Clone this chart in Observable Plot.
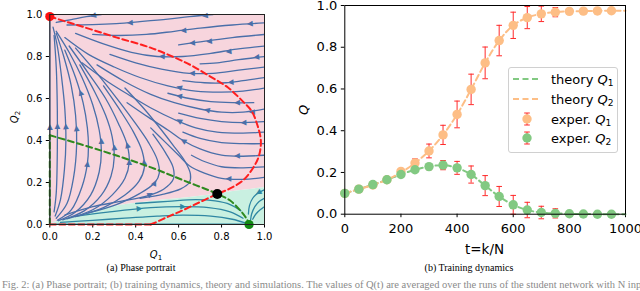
<!DOCTYPE html>
<html><head><meta charset="utf-8">
<script src="https://cdn.jsdelivr.net/npm/d3@7"></script>
<script src="https://cdn.jsdelivr.net/npm/@observablehq/plot@0.6"></script>
<style>
html,body{margin:0;padding:0;background:#fff;}
#fig{position:relative;width:640px;height:291px;overflow:hidden;font-family:"DejaVu Sans",sans-serif;color:#000;}
#fig svg{position:absolute;top:0;}
.abs{position:absolute;white-space:nowrap;line-height:1;}
sub{font-size:0.7em;vertical-align:-0.3em;line-height:0;}
</style></head><body><div id="fig"></div>
<script>
// ---------- Panel (a): phase portrait ----------
const phaseTicks = [0, 0.2, 0.4, 0.6, 0.8, 1.0];
// upper edge of the teal basin (Q1, Q2)
const tealBoundary = [[0,0],[0.05,0.02],[0.1,0.035],[0.24,0.075],[0.47,0.11],[0.7,0.134],[0.78,0.147],[1.0,0.175]];
// red dashed nullcline
const redCurve = [[0,0.99],[0.158,0.94],[0.313,0.89],[0.469,0.842],[0.577,0.797],[0.66,0.757],[0.75,0.703],[0.83,0.652],[0.9,0.585],[0.94,0.54],[0.968,0.47],[0.983,0.4],[0.975,0.33],[0.95,0.275],[0.9,0.21],[0.84,0.172],[0.78,0.145],[0.7,0.107],[0.62,0.068],[0.546,0.035],[0.484,0.006],[0.47,0.0]];
const redBottom = [[0,0],[0.47,0]];
// green dashed nullcline
const greenCurve = [[0,0.425],[0.236,0.353],[0.468,0.273],[0.623,0.21],[0.78,0.146],[0.84,0.114],[0.887,0.067],[0.915,0.03],[0.93,0.0]];
const greenLeft = [[0,0],[0,0.425]];
// fixed points
const redPoint = [[0,0.99]];
const saddlePoint = [[0.78,0.145]];
const greenPoint = [[0.928,0.0]];
// streamlines in the pink basin
const blueStreams = [
  [[0,0],[0,0.97]],
  [[0.76,1.0],[0.65,0.99],[0.55,0.978],[0.42,0.966],[0.31,0.957],[0.2,0.952],[0.08,0.95]],
  [[0.24,1.0],[0.17,0.99],[0.1,0.976],[0.03,0.962]],
  [[1.0,0.96],[0.85,0.95],[0.7,0.935],[0.58,0.92],[0.45,0.905],[0.32,0.9],[0.2,0.905]],
  [[1.0,0.905],[0.85,0.89],[0.7,0.87],[0.6,0.855]],
  [[1.0,0.85],[0.87,0.835],[0.75,0.815],[0.62,0.8],[0.5,0.8],[0.38,0.82],[0.25,0.86],[0.12,0.91]],
  [[1.0,0.8],[0.88,0.785],[0.78,0.77],[0.7,0.765]],
  [[1.0,0.75],[0.88,0.735],[0.76,0.72],[0.65,0.72],[0.52,0.74],[0.4,0.77],[0.28,0.81]],
  [[1.0,0.7],[0.9,0.685],[0.82,0.675],[0.72,0.675],[0.62,0.685]],
  [[1.0,0.65],[0.9,0.635],[0.8,0.63],[0.68,0.635],[0.55,0.66],[0.42,0.7],[0.3,0.75],[0.18,0.81],[0.07,0.89]],
  [[0.95,0.58],[0.85,0.58],[0.75,0.585],[0.65,0.6],[0.55,0.625]],
  [[1.0,0.55],[0.9,0.535],[0.8,0.535],[0.7,0.55],[0.58,0.58],[0.47,0.62],[0.35,0.68],[0.22,0.76]],
  [[1.0,0.49],[0.9,0.485],[0.8,0.49],[0.7,0.505],[0.6,0.53]],
  [[1.0,0.44],[0.9,0.435],[0.78,0.44],[0.68,0.46],[0.58,0.5],[0.48,0.55],[0.38,0.61],[0.27,0.68],[0.15,0.77]],
  [[1.0,0.385],[0.9,0.385],[0.8,0.39],[0.7,0.41],[0.62,0.44]],
  [[1.0,0.33],[0.9,0.325],[0.8,0.33],[0.7,0.36],[0.62,0.4],[0.55,0.45],[0.46,0.51],[0.36,0.58]],
  [[1.0,0.275],[0.9,0.27],[0.8,0.275],[0.72,0.3],[0.66,0.33]],
  [[1.0,0.225],[0.9,0.215],[0.8,0.22],[0.72,0.245],[0.65,0.28],[0.6,0.33],[0.54,0.39],[0.47,0.46]],
  [[0.02,0.06],[0.03,0.15],[0.035,0.35],[0.035,0.55],[0.03,0.75],[0.02,0.9]],
  [[0.025,0.04],[0.05,0.12],[0.068,0.26],[0.075,0.4],[0.07,0.55],[0.055,0.7],[0.035,0.85],[0.015,0.94]],
  [[0.03,0.03],[0.08,0.1],[0.11,0.22],[0.125,0.38],[0.12,0.52],[0.1,0.66],[0.065,0.8],[0.03,0.91]],
  [[0.035,0.02],[0.1,0.07],[0.15,0.18],[0.175,0.29],[0.18,0.37],[0.175,0.46],[0.155,0.58],[0.12,0.7],[0.07,0.83]],
  [[0.04,0.018],[0.12,0.06],[0.19,0.14],[0.23,0.25],[0.24,0.35],[0.23,0.45],[0.2,0.57],[0.15,0.7],[0.09,0.82],[0.03,0.92]],
  [[0.06,0.022],[0.16,0.065],[0.24,0.14],[0.285,0.23],[0.3,0.32],[0.29,0.42],[0.26,0.52],[0.21,0.63],[0.14,0.76]],
  [[0.08,0.027],[0.2,0.07],[0.29,0.14],[0.35,0.22],[0.37,0.295],[0.36,0.38],[0.32,0.48],[0.26,0.6],[0.18,0.72],[0.09,0.85]],
  [[0.12,0.037],[0.25,0.08],[0.35,0.14],[0.415,0.205],[0.44,0.27],[0.43,0.35],[0.39,0.44],[0.33,0.54],[0.25,0.66]],
  [[0.18,0.055],[0.31,0.095],[0.42,0.148],[0.49,0.2],[0.51,0.245],[0.5,0.31],[0.46,0.39],[0.4,0.48],[0.32,0.59],[0.22,0.72],[0.12,0.84]],
  [[0.07,0.045],[0.2,0.085],[0.33,0.11],[0.45,0.135],[0.53,0.168],[0.575,0.215],[0.575,0.27],[0.54,0.34],[0.48,0.43]],
  [[0.42,0.125],[0.53,0.145],[0.61,0.17],[0.65,0.2],[0.655,0.24],[0.63,0.3],[0.58,0.37],[0.52,0.45],[0.44,0.55],[0.35,0.65]]
];
// streamlines in the teal basin
const tealStreams = [
  [[0,0.002],[0.928,0.002]],
  [[0.05,0.01],[0.2,0.02],[0.35,0.03],[0.5,0.04],[0.62,0.045],[0.75,0.04],[0.85,0.025],[0.91,0.008]],
  [[0.11,0.038],[0.27,0.059],[0.47,0.08],[0.62,0.085],[0.74,0.08],[0.84,0.06],[0.9,0.03]],
  [[0.4,0.1],[0.55,0.11],[0.68,0.118],[0.77,0.112],[0.84,0.095],[0.89,0.065]],
  [[1.0,0.165],[0.97,0.15],[0.945,0.125],[0.93,0.09],[0.925,0.05]],
  [[1.0,0.125],[0.975,0.11],[0.955,0.085],[0.94,0.05],[0.935,0.02]],
  [[1.0,0.085],[0.98,0.07],[0.96,0.05],[0.945,0.025]]
];
// arrow heads: Q1, Q2, screen heading (deg clockwise from up)
const blueArrows = [
  [0.2,0.994,255],[0.37,0.96,265],[0.62,0.924,265],[0.93,0.955,265],[0.74,0.872,264],
  [0.83,0.823,264],[0.96,0.797,264],[0.52,0.8,275],[0.66,0.72,272],[0.84,0.677,266],
  [0.6,0.654,288],[0.87,0.58,270],[0.73,0.546,285],[0.9,0.485,268],[0.6,0.495,300],
  [0.87,0.326,268],[0.62,0.4,300],[0.83,0.218,272],[0.0,0.465,0],[0.035,0.47,0],
  [0.074,0.47,356],[0.124,0.46,356],[0.143,0.63,340],[0.175,0.29,8],[0.24,0.4,358],
  [0.3,0.37,356],[0.36,0.38,345],[0.37,0.3,0],[0.438,0.3,355],[0.49,0.2,25],[0.47,0.145,62],
  [0.72,0.993,262],[0.66,0.864,265],[0.6,0.612,280],[0.94,0.535,268]
];
const tealArrows = [[0.42,0.075,85],[0.62,0.085,90],[0.97,0.15,240]];

// ---------- Panel (b): training dynamics ----------
const tTicks = [0, 200, 400, 600, 800, 1000];
const qTicks = [0, 0.2, 0.4, 0.6, 0.8, 1.0];
const expT   = [0,50,100,150,200,250,300,350,400,450,500,550,600,650,700,750,800,850,900,950];
const experQ1 = [0.10,0.12,0.14,0.165,0.205,0.245,0.303,0.38,0.478,0.598,0.725,0.832,0.905,0.942,0.96,0.968,0.972,0.973,0.974,0.975];
const errQ1   = [0.004,0.004,0.005,0.006,0.012,0.02,0.033,0.046,0.064,0.073,0.076,0.073,0.063,0.053,0.037,0.022,0.008,0.005,0.004,0.003];
const experQ2 = [0.10,0.12,0.142,0.165,0.19,0.213,0.228,0.235,0.222,0.19,0.137,0.085,0.045,0.02,0.008,0.004,0.002,0.001,0.0,0.0];
const errQ2   = [0.004,0.005,0.006,0.007,0.01,0.012,0.015,0.022,0.031,0.041,0.048,0.048,0.045,0.037,0.03,0.022,0.006,0.004,0.003,0.002];
const theoryT  = [0,50,100,150,200,250,300,350,400,450,500,550,600,650,700,750,800,850,900,950,1000];
const theoryQ1 = [0.10,0.12,0.142,0.165,0.19,0.213,0.228,0.235,0.222,0.19,0.137,0.085,0.045,0.02,0.008,0.004,0.002,0.001,0.0,0.0,0.0];
const theoryQ2 = [0.10,0.12,0.14,0.165,0.2,0.245,0.303,0.38,0.478,0.598,0.725,0.832,0.905,0.942,0.96,0.968,0.972,0.973,0.974,0.975,0.975];

// ---------- colours ----------
const PINK = "#f7d5dd", TEAL = "#c9f0e1", BLUE = "#4a6fa9", TEALLINE = "#2f87a3";
const RED = "#ff1f1f", DGREEN = "#2f8a1f";
const ORANGE = "#fdbe86", GREEN = "#82c982", ERR = "#ff2a2a";

const fig = document.getElementById("fig");
const P = d => d[0], Qv = d => d[1];
const flat = arr => arr.flatMap((pts, i) => pts.map(([x, y]) => ({id: i, x, y})));
const fmt1 = d3.format(".1f");

const left = Plot.plot({
  width: 300, height: 250,
  marginLeft: 49.3, marginRight: 36, marginTop: 14, marginBottom: 26,
  x: {domain: [0, 1], ticks: phaseTicks, tickFormat: fmt1, tickSize: 3.5, tickPadding: 4.5, label: null},
  y: {domain: [0, 1], ticks: phaseTicks, tickFormat: fmt1, tickSize: 3.5, tickPadding: 4, label: null},
  style: {fontFamily: "DejaVu Sans", fontSize: "10px", color: "#000", background: "transparent"},
  marks: [
    Plot.areaY(tealBoundary, {x: P, y1: Qv, y2: 1, fill: PINK, curve: "monotone-x"}),
    Plot.areaY(tealBoundary, {x: P, y1: 0, y2: Qv, fill: TEAL, curve: "monotone-x"}),
    Plot.line(flat(tealStreams), {x: "x", y: "y", z: "id", stroke: TEALLINE, strokeWidth: 1.3, curve: "catmull-rom", clip: true}),
    Plot.line(flat(blueStreams), {x: "x", y: "y", z: "id", stroke: BLUE, strokeWidth: 1.3, curve: "catmull-rom", clip: true}),
    Plot.text(blueArrows, {x: P, y: Qv, rotate: d => d[2], text: () => "\u25B2", fill: BLUE, fontSize: 7.5}),
    Plot.text(tealArrows, {x: P, y: Qv, rotate: d => d[2], text: () => "\u25B2", fill: TEALLINE, fontSize: 7.5}),
    Plot.line(greenLeft, {x: P, y: Qv, stroke: DGREEN, strokeWidth: 2, strokeDasharray: "6,3.5"}),
    Plot.line(greenCurve, {x: P, y: Qv, stroke: DGREEN, strokeWidth: 2, strokeDasharray: "6,3.5", curve: "catmull-rom"}),
    Plot.line(redBottom, {x: P, y: Qv, stroke: RED, strokeWidth: 2, strokeDasharray: "6,3.5"}),
    Plot.line(redCurve, {x: P, y: Qv, stroke: RED, strokeWidth: 2, strokeDasharray: "6,3.5", curve: "catmull-rom"}),
    Plot.dot(redPoint, {x: P, y: Qv, r: 4.6, fill: "#ff1010", stroke: "none"}),
    Plot.dot(saddlePoint, {x: P, y: Qv, r: 5, fill: "#000", stroke: "none"}),
    Plot.dot(greenPoint, {x: P, y: Qv, r: 4.6, fill: "#128a12", stroke: "none"}),
    Plot.frame({stroke: "#222", strokeWidth: 1})
  ]
});
left.style.left = "0px";
fig.appendChild(left);

const expRows = expT.map((t, i) => ({t, q1: experQ1[i], e1: errQ1[i], q2: experQ2[i], e2: errQ2[i]}));
const theoryRows = theoryT.map((t, i) => ({t, q1: theoryQ1[i], q2: theoryQ2[i]}));
const capSymbol = {draw(ctx, size) { const w = Math.sqrt(size / Math.PI); ctx.moveTo(-w, 0); ctx.lineTo(w, 0); }};

const right = Plot.plot({
  width: 340, height: 240,
  marginLeft: 44.3, marginRight: 15, marginTop: 5, marginBottom: 26.3,
  x: {domain: [0, 1000], ticks: tTicks, tickFormat: d3.format("d"), tickSize: 3.5, tickPadding: 6.5, label: null},
  y: {domain: [0, 1], ticks: qTicks, tickFormat: fmt1, tickSize: 3.5, tickPadding: 4, label: null},
  style: {fontFamily: "DejaVu Sans", fontSize: "13px", color: "#000", background: "transparent"},
  marks: [
    Plot.line(theoryRows, {x: "t", y: "q1", stroke: GREEN, strokeWidth: 2, strokeDasharray: "6,3.5", curve: "catmull-rom"}),
    Plot.line(theoryRows, {x: "t", y: "q2", stroke: ORANGE, strokeWidth: 2, strokeDasharray: "6,3.5", curve: "catmull-rom"}),
    Plot.ruleX(expRows, {x: "t", y1: d => d.q1 - d.e1, y2: d => d.q1 + d.e1, stroke: ERR, strokeWidth: 1}),
    Plot.dot(expRows, {x: "t", y: d => d.q1 + d.e1, symbol: capSymbol, r: 2.8, stroke: ERR, fill: "none", strokeWidth: 1}),
    Plot.dot(expRows, {x: "t", y: d => d.q1 - d.e1, symbol: capSymbol, r: 2.8, stroke: ERR, fill: "none", strokeWidth: 1}),
    Plot.dot(expRows, {x: "t", y: "q1", r: 4.7, fill: ORANGE, stroke: "none"}),
    Plot.ruleX(expRows, {x: "t", y1: d => d.q2 - d.e2, y2: d => d.q2 + d.e2, stroke: ERR, strokeWidth: 1}),
    Plot.dot(expRows, {x: "t", y: d => d.q2 + d.e2, symbol: capSymbol, r: 2.8, stroke: ERR, fill: "none", strokeWidth: 1}),
    Plot.dot(expRows, {x: "t", y: d => d.q2 - d.e2, symbol: capSymbol, r: 2.8, stroke: ERR, fill: "none", strokeWidth: 1}),
    Plot.dot(expRows, {x: "t", y: "q2", r: 4.7, fill: GREEN, stroke: "none"}),
    Plot.frame({stroke: "#000", strokeWidth: 1})
  ]
});
right.style.left = "300px";
fig.appendChild(right);

// ---------- text: axis titles, legend, captions ----------
function addText(html, x, y, style, rot) {
  const el = document.createElement("div");
  el.className = "abs";
  el.innerHTML = html;
  el.style.left = x + "px";
  el.style.top = y + "px";
  el.style.transform = "translate(-50%,-50%)" + (rot ? " rotate(" + rot + "deg)" : "");
  if (style) el.setAttribute("style", el.getAttribute("style") + ";" + style);
  fig.appendChild(el);
  return el;
}
addText("<i>Q</i><sub>2</sub>", 15, 117, "font-size:10px", -90);
addText("<i>Q</i><sub>1</sub>", 156, 255, "font-size:10px");
addText("<i>Q</i>", 302.5, 110, "font-size:13px", -90);
addText("t=k/N", 484.5, 250, "font-size:13.5px");
addText("(a) Phase portrait", 141, 268, "font-family:'Liberation Serif',serif;font-size:10px");
addText("(b) Training dynamics", 469, 268, "font-family:'Liberation Serif',serif;font-size:10px");
const foot = document.createElement("div");
foot.className = "abs";
foot.style.cssText = "left:2px;top:280px;font-family:'Liberation Serif',serif;font-size:10.5px;color:#8a8a8a;";
foot.textContent = "Fig. 2: (a) Phase portrait; (b) training dynamics, theory and simulations. The values of Q(t) are averaged over the runs of the student network with N inputs and";
fig.appendChild(foot);

// legend
const legend = document.createElement("div");
legend.className = "abs";
legend.style.cssText = "left:508px;top:67px;width:108px;height:84px;border:1px solid #d0d0d0;border-radius:3px;background:rgba(255,255,255,0.85);";
fig.appendChild(legend);
const legendItems = [
  {kind: "line", color: GREEN, label: "theory <i>Q</i><sub>1</sub>", y: 79},
  {kind: "line", color: ORANGE, label: "theory <i>Q</i><sub>2</sub>", y: 99},
  {kind: "dot", color: ORANGE, label: "exper. <i>Q</i><sub>1</sub>", y: 118.5},
  {kind: "dot", color: GREEN, label: "exper. <i>Q</i><sub>2</sub>", y: 138}
];
for (const it of legendItems) {
  const sw = document.createElementNS("http://www.w3.org/2000/svg", "svg");
  sw.setAttribute("width", 30); sw.setAttribute("height", 16);
  sw.style.cssText = "position:absolute;left:512px;top:" + (it.y - 8) + "px;overflow:visible";
  if (it.kind === "line") {
    sw.innerHTML = `<line x1="1" y1="8" x2="29" y2="8" stroke="${it.color}" stroke-width="2" stroke-dasharray="6,3.5"/>`;
  } else {
    sw.innerHTML = `<line x1="15" y1="2" x2="15" y2="14" stroke="${ERR}" stroke-width="1"/>` +
      `<line x1="12.2" y1="2" x2="17.8" y2="2" stroke="${ERR}" stroke-width="1"/>` +
      `<line x1="12.2" y1="14" x2="17.8" y2="14" stroke="${ERR}" stroke-width="1"/>` +
      `<circle cx="15" cy="8" r="4.7" fill="${it.color}"/>`;
  }
  fig.appendChild(sw);
  const tx = document.createElement("div");
  tx.className = "abs";
  tx.innerHTML = it.label;
  tx.style.cssText = "left:551px;top:" + it.y + "px;transform:translateY(-50%);font-size:13px;";
  fig.appendChild(tx);
}
</script></body></html>
